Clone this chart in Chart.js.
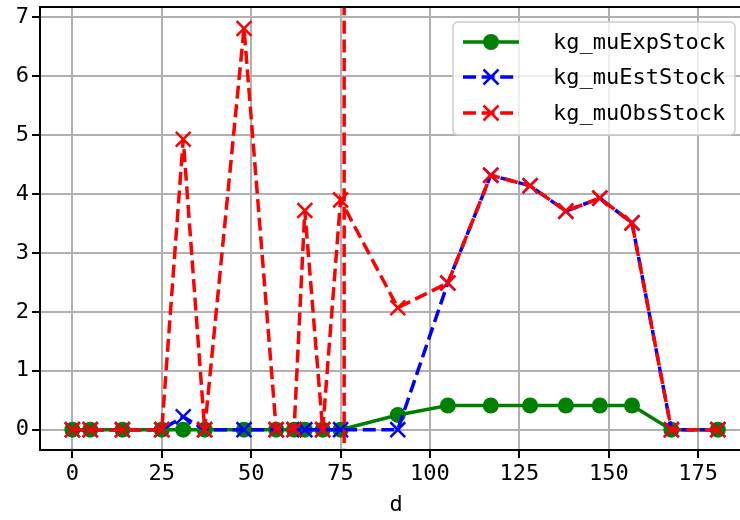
<!DOCTYPE html>
<html><head><meta charset="utf-8">
<script src="https://cdn.jsdelivr.net/npm/chart.js@4/dist/chart.umd.min.js"></script>
<style>html,body{margin:0;padding:0;overflow:hidden;background:#fff;width:740px;height:520px}
#wrap{position:relative;width:740px;height:520px;overflow:hidden}
canvas{display:block;position:absolute;left:0;top:0}</style>
</head><body>
<div id="wrap"><canvas id="c" width="752" height="520"></canvas></div>
<script>
// ---- data ----
const days      = [0,5,14,25,31,37,48,57,62,65,70,75,91,105,117,128,138,147.5,156.5,167.5,180.5];
const expStock  = [0,0,0,0,0,0,0,0,0,0,0,0,0.25,0.41,0.41,0.41,0.41,0.41,0.41,0,0];
const estStock  = [0,0,0,0,0.22,0,0,0,0,0,0,0,0,2.49,4.32,4.14,3.71,3.93,3.51,0,0];
const obsStock  = [0,0,0,0,4.93,0,6.81,0,0,3.72,0,3.90,2.07,2.49,4.32,4.14,3.71,3.93,3.51,0,0];
// unbounded observation (off-scale in both directions) at day 76
const obsSpikeDays   = [76,76];
const obsSpikeValues = [-100,100];
const seriesNames = ['kg_muExpStock','kg_muEstStock','kg_muObsStock'];
const xTicks = [0,25,50,75,100,125,150,175];
const yTicks = [0,1,2,3,4,5,6,7];
const xLabel = 'd';
const xRange = [-9.05, 190.05];
const yRange = [-0.345, 7.175];

const GREEN = '#008000', BLUE = '#0000ff', RED = '#ff0000';
const FONT = "'DejaVu Sans Mono', monospace";
Chart.defaults.font.family = FONT;
Chart.defaults.font.size = 22;
Chart.defaults.color = '#000';

const pts = (xs, ys) => xs.map((x, i) => ({x, y: ys[i]}));
const LW = 3.5;
const dashed = [13, 5.6];

const crossSet = (color, data) => ({
  data, borderColor: color, backgroundColor: color, borderWidth: LW, borderDash: dashed,
  pointStyle: 'crossRot', pointRadius: 10.5, pointBorderWidth: 2.5,
  pointBorderColor: color, pointBackgroundColor: color, fill: false, tension: 0, showLine: true
});

const frameLegend = {
  id: 'frameLegend',
  afterDatasetsDraw(chart) {
    const {ctx, chartArea: a} = chart;
    ctx.save();
    ctx.strokeStyle = '#000'; ctx.lineWidth = 2;
    ctx.strokeRect(a.left, a.top, a.right - a.left, a.bottom - a.top);
    ctx.restore();
  },
  afterDraw(chart) {
    const {ctx, chartArea: a} = chart;
    const w = 282, h = 113;
    const x0 = 453, y0 = a.top + 15;
    ctx.save();
    ctx.beginPath();
    ctx.roundRect(x0, y0, w, h, 5);
    ctx.fillStyle = 'rgba(255,255,255,0.8)';
    ctx.fill();
    ctx.strokeStyle = '#cccccc'; ctx.lineWidth = 1.5;
    ctx.stroke();
    const styles = [
      {c: GREEN, dash: [], marker: 'circle'},
      {c: BLUE, dash: dashed, marker: 'x'},
      {c: RED, dash: dashed, marker: 'x'}
    ];
    const rowY = [y0 + 20, y0 + 55, y0 + 91];
    const hx0 = x0 + 10, hx1 = x0 + 66, hc = (hx0 + hx1) / 2;
    styles.forEach((s, i) => {
      const y = rowY[i];
      ctx.save();
      ctx.strokeStyle = s.c; ctx.lineWidth = LW; ctx.setLineDash(s.dash);
      ctx.beginPath(); ctx.moveTo(hx0, y); ctx.lineTo(hx1, y); ctx.stroke();
      ctx.setLineDash([]);
      if (s.marker === 'circle') {
        ctx.fillStyle = s.c; ctx.beginPath(); ctx.arc(hc, y, 8, 0, Math.PI * 2); ctx.fill();
      } else {
        const d = 7.5; ctx.lineWidth = 2.5;
        ctx.beginPath(); ctx.moveTo(hc - d, y - d); ctx.lineTo(hc + d, y + d);
        ctx.moveTo(hc - d, y + d); ctx.lineTo(hc + d, y - d); ctx.stroke();
      }
      ctx.restore();
      ctx.fillStyle = '#000'; ctx.font = '22px ' + FONT;
      ctx.textBaseline = 'middle'; ctx.textAlign = 'left';
      ctx.fillText(seriesNames[i], x0 + 100, y + 1);
    });
    ctx.restore();
  }
};

const zeroPad = s => { s.paddingTop = 0; s.paddingBottom = 0; s.paddingLeft = 0; s.paddingRight = 0; };

new Chart(document.getElementById('c'), {
  type: 'scatter',
  data: {
    datasets: [
      Object.assign(crossSet(RED, pts(days, obsStock)), {label: seriesNames[2]}),
      Object.assign(crossSet(RED, pts(obsSpikeDays, obsSpikeValues)), {label: '', pointRadius: 0, clip: 0}),
      Object.assign(crossSet(BLUE, pts(days, estStock)), {label: seriesNames[1]}),
      {label: seriesNames[0], data: pts(days, expStock), borderColor: GREEN, backgroundColor: GREEN,
       borderWidth: LW, pointStyle: 'circle', pointRadius: 8, pointBorderWidth: 0,
       pointBackgroundColor: GREEN, fill: false, tension: 0, showLine: true}
    ]
  },
  options: {
    responsive: false, animation: false, events: [], devicePixelRatio: 1,
    layout: {autoPadding: false, padding: {top: 7, left: 0, right: 0, bottom: 0}},
    plugins: {legend: {display: false}, tooltip: {enabled: false}},
    scales: {
      x: {
        type: 'linear', min: xRange[0], max: xRange[1],
        ticks: {includeBounds: false, padding: 3, maxRotation: 0, autoSkip: false},
        afterBuildTicks: s => { s.ticks = xTicks.map(v => ({value: v})); },
        afterFit: s => { s.height = 70; zeroPad(s); },
        grid: {color: '#b0b0b0', lineWidth: 2, tickColor: '#000', tickWidth: 2, tickLength: 8, drawTicks: true},
        border: {display: false},
        title: {display: true, text: xLabel, padding: {top: 0, bottom: 2}, font: {size: 22}}
      },
      y: {
        type: 'linear', min: yRange[0], max: yRange[1],
        ticks: {includeBounds: false, padding: 3, autoSkip: false},
        afterBuildTicks: s => { s.ticks = yTicks.map(v => ({value: v})); },
        afterFit: s => { s.width = 40; zeroPad(s); },
        grid: {color: '#b0b0b0', lineWidth: 2, tickColor: '#000', tickWidth: 2, tickLength: 8, drawTicks: true},
        border: {display: false}
      }
    }
  },
  plugins: [frameLegend]
});
</script>
</body></html>
